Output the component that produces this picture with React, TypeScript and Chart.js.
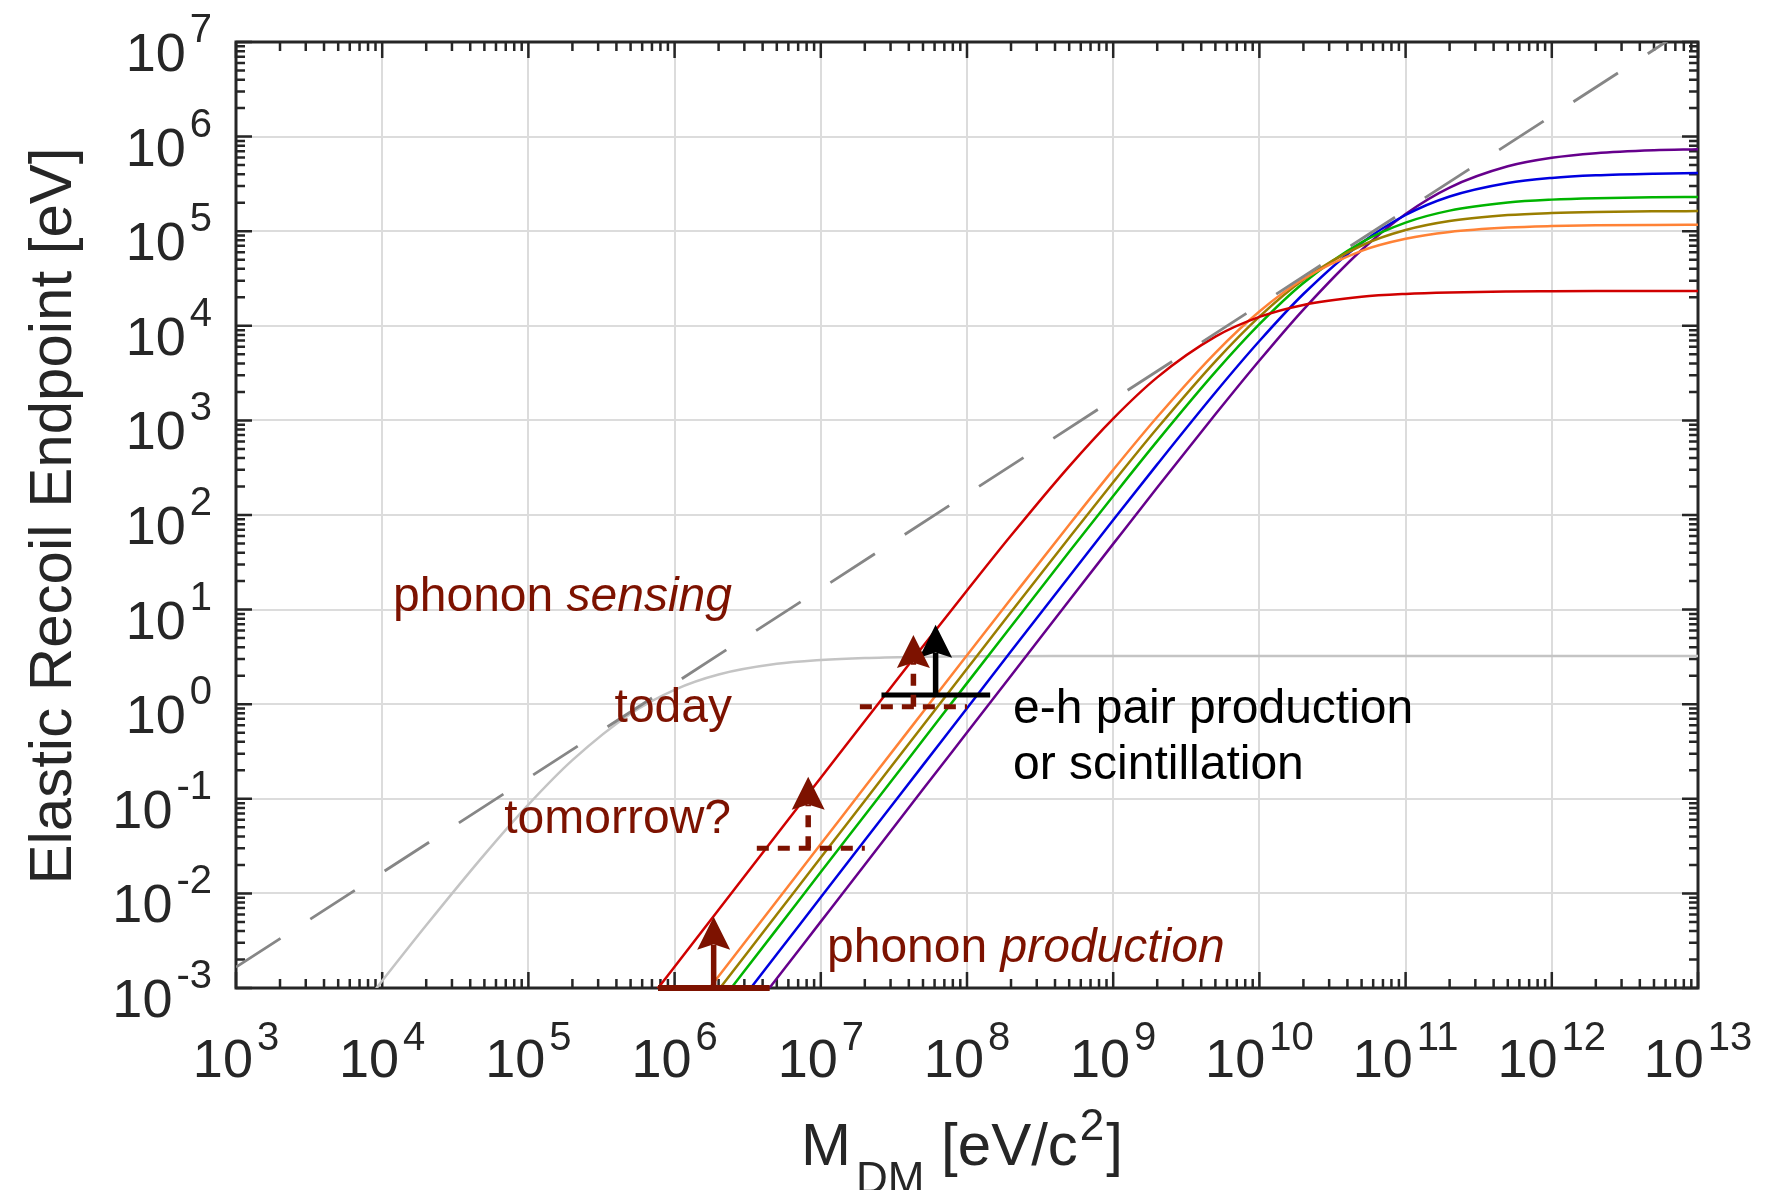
import React, { useEffect, useRef } from "react";
import { Chart, registerables } from "chart.js";

Chart.register(...registerables);

// ---------- data ----------
// dark-matter mass grid [eV/c^2]
const massGrid = [
  1e3, 2e3, 5e3, 1e4, 2e4, 5e4, 1e5, 2e5, 5e5, 1e6, 2e6, 5e6, 1e7, 2e7, 5e7,
  1e8, 2e8, 5e8, 1e9, 2e9, 5e9, 1e10, 2e10, 5e10, 1e11, 2e11, 5e11, 1e12, 2e12, 5e12, 1e13,
];

// elastic recoil endpoints [eV] on massGrid (null = far below the axis)
const electronRecoil = [
  null, null, 3.0e-4, 1.19e-3, 4.6e-3, 0.0257, 0.0868, 0.256, 0.793, 1.42, 2.06, 2.67, 2.93, 3.08, 3.17,
  3.21, 3.22, 3.23, 3.24, 3.24, 3.24, 3.24, 3.24, 3.24, 3.24, 3.24, 3.24, 3.24, 3.24, 3.24, 3.24,
];
const heliumRecoil = [
  null, null, null, null, null, null, null, null, 4.2e-4, 1.68e-3, 6.72e-3, 0.0419, 0.167, 0.666, 4.09,
  15.9, 60.6, 327, 1046, 2851, 7676, 12413, 16622, 20264, 21747, 22551, 23055, 23226, 23313, 23365, 23383,
];
const neonRecoil = [
  null, null, null, null, null, null, null, null, null, 3.32e-4, 1.33e-3, 8.31e-3, 0.0332, 0.133, 0.827,
  3.29, 13.0, 78.9, 300, 1086, 5186, 14166, 31220, 62058, 83253, 98176, 109139, 113204, 115322, 116621, 117060,
];
const siliconRecoil = [
  null, null, null, null, null, null, null, null, null, 2.39e-4, 9.56e-4, 5.97e-3, 0.0239, 0.0954, 0.595,
  2.37, 9.41, 57.5, 222, 825, 4212, 12515, 30734, 70611, 102973, 128209, 148075, 155733, 159786, 162295, 163144,
];
const argonRecoil = [
  null, null, null, null, null, null, null, null, null, null, 6.71e-4, 4.19e-3, 0.0168, 0.067, 0.418,
  1.67, 6.63, 40.8, 159, 604, 3257, 10414, 28363, 76277, 123248, 164937, 200981, 215657, 223605, 228586, 230283,
];
const germaniumRecoil = [
  null, null, null, null, null, null, null, null, null, null, 3.64e-4, 2.27e-3, 9.1e-3, 0.0364, 0.227,
  0.907, 3.62, 22.4, 88.4, 343, 1973, 6907, 21687, 75253, 148276, 232755, 323473, 365795, 390140, 405933, 411411,
];
const xenonRecoil = [
  null, null, null, null, null, null, null, null, null, null, 2.01e-4, 1.26e-3, 5.03e-3, 0.0201, 0.126,
  0.502, 2.0, 12.5, 49.5, 195, 1160, 4296, 14855, 63327, 152174, 289573, 485466, 597035, 667828, 716519, 733938,
];

// dashed kinematic line (two end points)
const kinematicMass = [1e3, 1e13];
const kinematicEnergy = [1.66e-3, 1.66e7];

// threshold bars and arrows: 0 = phonon production, 1 = tomorrow?, 2 = today, 3 = e-h / scintillation
const thresholdLevel = [1e-3, 0.03, 0.94, 1.25];
const thresholdLo = [7.7e5, 3.65e6, 1.85e7, 2.6e7];
const thresholdHi = [4.47e6, 2.0e7, 1.0e8, 1.44e8];
const arrowMass = [1.85e6, 8.2e6, 4.3e7, 6.1e7];
const arrowTip = [5.68e-3, 0.171, 5.4, 6.9];

// tick exponents
const xTickExponents = [3, 4, 5, 6, 7, 8, 9, 10, 11, 12, 13];
const yTickExponents = [-3, -2, -1, 0, 1, 2, 3, 4, 5, 6, 7];

// ---------- styles ----------
const FONT = '"Liberation Sans", Arial, Helvetica, sans-serif';
const AXIS = "#262626";
const DARK_RED = "#7d1200";
const seriesStyle = [
  { label: "He", color: "#d00000", values: heliumRecoil },
  { label: "Ne", color: "#ff8236", values: neonRecoil },
  { label: "Si", color: "#9a7e00", values: siliconRecoil },
  { label: "Ar", color: "#00b400", values: argonRecoil },
  { label: "Ge", color: "#0000e0", values: germaniumRecoil },
  { label: "Xe", color: "#66008c", values: xenonRecoil },
];
const thresholdColor = [DARK_RED, DARK_RED, DARK_RED, "#000000"];
const thresholdDashed = [false, true, true, false];
const thresholdWidth = [6, 5, 5, 5];

type Run = { text: string; size: number; italic?: boolean; dy?: number; pre?: number };

function fontOf(r: Run) {
  return `${r.italic ? "italic " : ""}${r.size}px ${FONT}`;
}

function drawRuns(
  ctx: CanvasRenderingContext2D,
  runs: Run[],
  x: number,
  y: number,
  align: "left" | "right" | "center",
  color: string,
  sx = 1
) {
  ctx.save();
  ctx.fillStyle = color;
  ctx.textBaseline = "alphabetic";
  ctx.textAlign = "left";
  const widths = runs.map((r) => {
    ctx.font = fontOf(r);
    return ctx.measureText(r.text).width + (r.pre || 0);
  });
  const total = widths.reduce((a, b) => a + b, 0) * sx;
  const start = align === "left" ? x : align === "right" ? x - total : x - total / 2;
  ctx.translate(start, y);
  ctx.scale(sx, 1);
  let cx = 0;
  runs.forEach((r, i) => {
    ctx.font = fontOf(r);
    ctx.fillText(r.text, cx + (r.pre || 0), r.dy || 0);
    cx += widths[i];
  });
  ctx.restore();
}

function drawArrow(
  ctx: CanvasRenderingContext2D,
  x: number,
  yBase: number,
  yTip: number,
  color: string,
  dashed: boolean
) {
  const headLen = 33;
  const headW = 33;
  ctx.save();
  ctx.strokeStyle = color;
  ctx.fillStyle = color;
  ctx.lineWidth = 5.5;
  ctx.lineCap = "butt";
  ctx.setLineDash(dashed ? [12, 9] : []);
  ctx.beginPath();
  ctx.moveTo(x, yBase);
  ctx.lineTo(x, yTip + headLen - 5);
  ctx.stroke();
  ctx.setLineDash([]);
  ctx.beginPath();
  ctx.moveTo(x, yTip);
  ctx.lineTo(x + headW / 2, yTip + headLen);
  ctx.lineTo(x, yTip + headLen * 0.84);
  ctx.lineTo(x - headW / 2, yTip + headLen);
  ctx.closePath();
  ctx.fill();
  ctx.restore();
}

const decorations = {
  id: "decorations",
  beforeDatasetsDraw(chart: any) {
    const { ctx, chartArea: a } = chart;
    const xs = chart.scales.x;
    const ys = chart.scales.y;
    ctx.save();
    // grid
    ctx.lineWidth = 2;
    ctx.strokeStyle = "rgba(38,38,38,0.16)";
    ctx.beginPath();
    xTickExponents.forEach((e) => {
      const p = Math.round(xs.getPixelForValue(Math.pow(10, e)));
      ctx.moveTo(p, a.top);
      ctx.lineTo(p, a.bottom);
    });
    yTickExponents.forEach((e) => {
      const p = Math.round(ys.getPixelForValue(Math.pow(10, e)));
      ctx.moveTo(a.left, p);
      ctx.lineTo(a.right, p);
    });
    ctx.stroke();
    // ticks (inward, all four sides)
    ctx.strokeStyle = AXIS;
    ctx.lineWidth = 2.5;
    ctx.beginPath();
    xTickExponents.forEach((e, i) => {
      for (let k = 1; k <= 9; k++) {
        if (i === xTickExponents.length - 1 && k > 1) break;
        const p = xs.getPixelForValue(k * Math.pow(10, e));
        const len = k === 1 ? 16 : 9;
        ctx.moveTo(p, a.bottom);
        ctx.lineTo(p, a.bottom - len);
        ctx.moveTo(p, a.top);
        ctx.lineTo(p, a.top + len);
      }
    });
    yTickExponents.forEach((e, i) => {
      for (let k = 1; k <= 9; k++) {
        if (i === yTickExponents.length - 1 && k > 1) break;
        const p = ys.getPixelForValue(k * Math.pow(10, e));
        const len = k === 1 ? 16 : 9;
        ctx.moveTo(a.left, p);
        ctx.lineTo(a.left + len, p);
        ctx.moveTo(a.right, p);
        ctx.lineTo(a.right - len, p);
      }
    });
    ctx.stroke();
    ctx.lineWidth = 3;
    ctx.strokeRect(a.left, a.top, a.right - a.left, a.bottom - a.top);
    ctx.restore();
  },
  afterDatasetsDraw(chart: any) {
    const { ctx } = chart;
    const xs = chart.scales.x;
    const ys = chart.scales.y;
    const px = (v: number) => xs.getPixelForValue(v);
    const py = (v: number) => ys.getPixelForValue(v);

    // threshold bars and arrows (black first, so red overlays)
    for (let i = thresholdLevel.length - 1; i >= 0; i--) {
      ctx.save();
      ctx.strokeStyle = thresholdColor[i];
      ctx.lineWidth = thresholdWidth[i];
      ctx.lineCap = "butt";
      ctx.setLineDash(thresholdDashed[i] ? [12, 9] : []);
      ctx.beginPath();
      ctx.moveTo(px(thresholdLo[i]), py(thresholdLevel[i]));
      ctx.lineTo(px(thresholdHi[i]), py(thresholdLevel[i]));
      ctx.stroke();
      ctx.restore();
      drawArrow(ctx, px(arrowMass[i]), py(thresholdLevel[i]), py(arrowTip[i]), thresholdColor[i], thresholdDashed[i]);
    }

    // annotations
    drawRuns(ctx, [{ text: "phonon ", size: 48 }, { text: "sensing", size: 48, italic: true }], 732, 611, "right", DARK_RED);
    drawRuns(ctx, [{ text: "today", size: 48 }], 732, 722, "right", DARK_RED);
    drawRuns(ctx, [{ text: "tomorrow?", size: 48 }], 731, 833, "right", DARK_RED);
    drawRuns(ctx, [{ text: "phonon ", size: 48 }, { text: "production", size: 48, italic: true }], 827, 962, "left", DARK_RED);
    drawRuns(ctx, [{ text: "e-h pair production", size: 48 }], 1013, 723, "left", "#000000");
    drawRuns(ctx, [{ text: "or scintillation", size: 48 }], 1013, 779, "left", "#000000");

    // tick labels
    yTickExponents.forEach((e) => {
      const y0 = py(Math.pow(10, e));
      drawRuns(ctx, [{ text: "10", size: 54 }, { text: String(e), size: 40, dy: -29, pre: 4 }], 212, y0 + 29, "right", AXIS);
    });
    xTickExponents.forEach((e) => {
      const x0 = px(Math.pow(10, e));
      drawRuns(ctx, [{ text: "10", size: 54 }, { text: String(e), size: 40, dy: -27, pre: 4 }], x0, 1077, "center", AXIS);
    });

    // axis titles
    drawRuns(
      ctx,
      [
        { text: "M", size: 60 },
        { text: "DM", size: 44, dy: 28, pre: 5 },
        { text: " [eV/c", size: 60 },
        { text: "2", size: 44, dy: -25, pre: 2 },
        { text: "]", size: 60, pre: 2 },
      ],
      962,
      1165,
      "center",
      AXIS
    );
    ctx.save();
    ctx.translate(71, 516);
    ctx.rotate(-Math.PI / 2);
    drawRuns(ctx, [{ text: "Elastic Recoil Endpoint [eV]", size: 60 }], 0, 0, "center", AXIS);
    ctx.restore();
  },
};

export default function App() {
  const ref = useRef<HTMLCanvasElement>(null);
  useEffect(() => {
    const canvas = ref.current;
    if (!canvas) return;
    const toPoints = (vals: (number | null)[]) => massGrid.map((m, i) => ({ x: m, y: vals[i] }));
    const datasets: any[] = [
      {
        label: "kinematic limit",
        data: kinematicMass.map((m, i) => ({ x: m, y: kinematicEnergy[i] })),
        borderColor: "#868686",
        borderWidth: 2.8,
        borderDash: [53, 35.5],
        tension: 0,
      },
      ...seriesStyle.map((s) => ({
        label: s.label,
        data: toPoints(s.values),
        borderColor: s.color,
        borderWidth: 2.5,
        cubicInterpolationMode: "monotone",
      })),
      {
        label: "electron",
        data: toPoints(electronRecoil),
        borderColor: "#c4c4c4",
        borderWidth: 2.5,
        cubicInterpolationMode: "monotone",
      },
    ];
    const chart = new Chart(canvas, {
      type: "line",
      data: { datasets },
      options: {
        animation: false,
        responsive: false,
        devicePixelRatio: 1,
        events: [],
        spanGaps: false,
        layout: { padding: { left: 236, top: 42, right: 77, bottom: 202 } },
        elements: { point: { radius: 0 }, line: { borderCapStyle: "butt" } },
        plugins: { legend: { display: false }, tooltip: { enabled: false }, title: { display: false } },
        scales: {
          x: { type: "logarithmic", min: 1e3, max: 1e13, display: false },
          y: { type: "logarithmic", min: 1e-3, max: 1e7, display: false },
        },
      } as any,
      plugins: [decorations as any],
    });
    return () => chart.destroy();
  }, []);
  return (
    <div style={{ position: "absolute", left: 0, top: 0, width: 1775, height: 1190, background: "#ffffff" }}>
      <canvas ref={ref} width={1775} height={1190} style={{ display: "block" }} />
    </div>
  );
}
